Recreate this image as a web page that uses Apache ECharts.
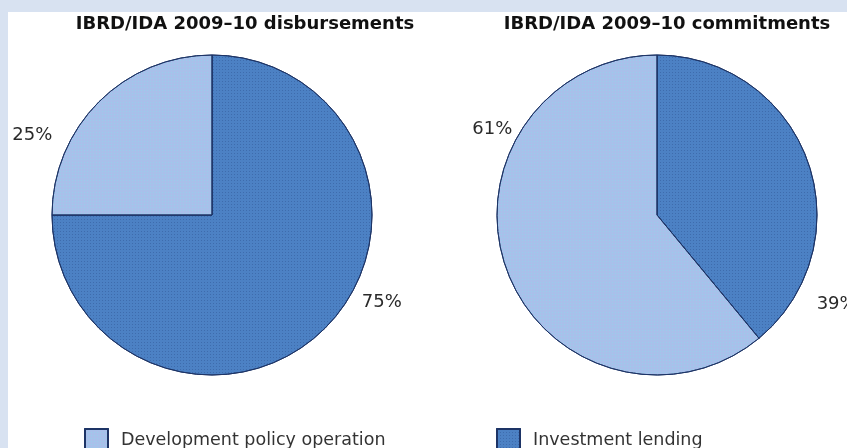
<!DOCTYPE html>
<html>
<head>
<meta charset="utf-8">
<script src="https://cdn.jsdelivr.net/npm/echarts@6/dist/echarts.min.js"></script>
<style>
  html, body { margin: 0; padding: 0; width: 847px; height: 448px; overflow: hidden; background: #d8e2f1; }
  #panel { position: absolute; left: 8px; top: 12px; width: 839px; height: 436px; background: #ffffff; }
  #chart { position: absolute; left: 0; top: 0; width: 847px; height: 448px; }
</style>
</head>
<body>
<div id="panel"></div>
<div id="chart"></div>
<script>
// ---- data ----
const categories = ['Investment lending', 'Development policy operation'];
const legendOrder = ['Development policy operation', 'Investment lending'];
const pieTitles = ['IBRD/IDA 2009\u201310 disbursements', 'IBRD/IDA 2009\u201310 commitments'];
const disbursements = [75, 25];
const commitments = [39, 61];

// ---- styles / layout ----
const colors = { 'Investment lending': '#4c81c4', 'Development policy operation': '#a8c0ea' };
const decals = {
  'Investment lending': { symbol: 'rect', symbolSize: 1, dashArrayX: [1, 2], dashArrayY: [1, 2], color: 'rgba(30,60,120,0.30)' },
  'Development policy operation': { symbol: 'rect', symbolSize: 1, dashArrayX: [1, 2], dashArrayY: [1, 2], color: 'rgba(140,215,235,0.55)' }
};
const labelNudge = [
  [[6, -36], [-16, 44]],
  [[-25, 149], [40, -145]]
];
const fontFamily = 'DejaVu Sans, sans-serif';

function buildData(values) {
  return categories.map((name, i) => ({
    name: name,
    value: values[i],
    itemStyle: { color: colors[name], decal: decals[name] }
  }));
}

const chart = echarts.init(document.getElementById('chart'), null, { renderer: 'canvas' });

const pieCommon = {
  type: 'pie',
  radius: 160,
  startAngle: 90,
  clockwise: true,
  avoidLabelOverlap: false,
  silent: true,
  itemStyle: { borderColor: '#1d3466', borderWidth: 1 },
  label: { show: true, position: 'outside', formatter: '{d}%', color: '#2a2a2a', fontSize: 18, fontFamily: fontFamily },
  labelLine: { show: false, length: 15, length2: 15 },
  emphasis: { disabled: true }
};

const legendCommon = {
  top: 428, padding: 0, icon: 'rect', itemWidth: 23, itemHeight: 22, itemGap: 0, selectedMode: false,
  textStyle: { fontFamily: fontFamily, fontSize: 17.5, color: '#333', padding: [0, 0, 0, 8] }
};

chart.setOption({
  animation: false,
  title: [
    { text: pieTitles[0], left: 240, top: 10, textAlign: 'center', textStyle: { fontFamily: fontFamily, fontWeight: 'bold', fontSize: 18, color: '#111' } },
    { text: pieTitles[1], left: 662, top: 10, textAlign: 'center', textStyle: { fontFamily: fontFamily, fontWeight: 'bold', fontSize: 18, color: '#111' } }
  ],
  legend: [
    Object.assign({}, legendCommon, { data: [legendOrder[0]], left: 84 }),
    Object.assign({}, legendCommon, { data: [legendOrder[1]], left: 496 })
  ],
  series: [
    Object.assign({}, pieCommon, {
      name: pieTitles[0], center: [212, 215], data: buildData(disbursements),
      labelLayout: function (p) { const n = labelNudge[0][p.dataIndex]; return { dx: n[0], dy: n[1] }; }
    }),
    Object.assign({}, pieCommon, {
      name: pieTitles[1], center: [657, 215], data: buildData(commitments),
      labelLayout: function (p) { const n = labelNudge[1][p.dataIndex]; return { dx: n[0], dy: n[1] }; }
    })
  ]
});
</script>
</body>
</html>
